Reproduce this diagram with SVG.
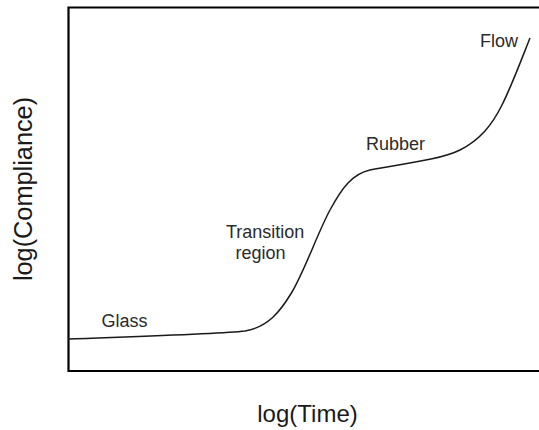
<svg xmlns="http://www.w3.org/2000/svg" width="539" height="430" viewBox="0 0 539 430">
  <style>
    .axis { stroke: #000; stroke-width: 2.2; fill: none; }
    .curve { stroke: #1a1a1a; stroke-width: 1.5; fill: none; }
    .lbl { font-family: "Liberation Sans", Arial, sans-serif; font-size: 18px; fill: #2b2b2b; }
    .ax { font-family: "Liberation Sans", Arial, sans-serif; font-size: 24px; fill: #1a1a1a; }
  </style>
  <rect width="539" height="430" fill="#fff"/>

  <!-- plot frame: top, left and bottom edges -->
  <g id="frame">
    <path class="axis" d="M539,7.5 H68.5 V371 H539"/>
  </g>

  <!-- compliance curve -->
  <g id="connectors">
    <path class="curve" d="M68,339 C150,336 220,334 245,331 C268,327 280,312 292,292 C305,270 318,232 330,210 C342,188 352,174 370,170 C400,164 440,160 460,150 C480,140 492,125 502,105 C512,85 522,58 530,38"/>
  </g>

  <g id="glass"><text class="lbl" x="101.5" y="327">Glass</text></g>
  <g id="transition">
    <text class="lbl" x="226" y="237.5">Transition</text>
    <text class="lbl" x="235.5" y="258.5">region</text>
  </g>
  <g id="rubber"><text class="lbl" x="366" y="150">Rubber</text></g>
  <g id="flow"><text class="lbl" x="480" y="47">Flow</text></g>

  <g id="x-label"><text class="ax" x="307.5" y="421.5" text-anchor="middle">log(Time)</text></g>
  <g id="y-label"><text class="ax" transform="translate(32,189) rotate(-90)" text-anchor="middle" style="font-size:25.3px">log(Compliance)</text></g>
</svg>
